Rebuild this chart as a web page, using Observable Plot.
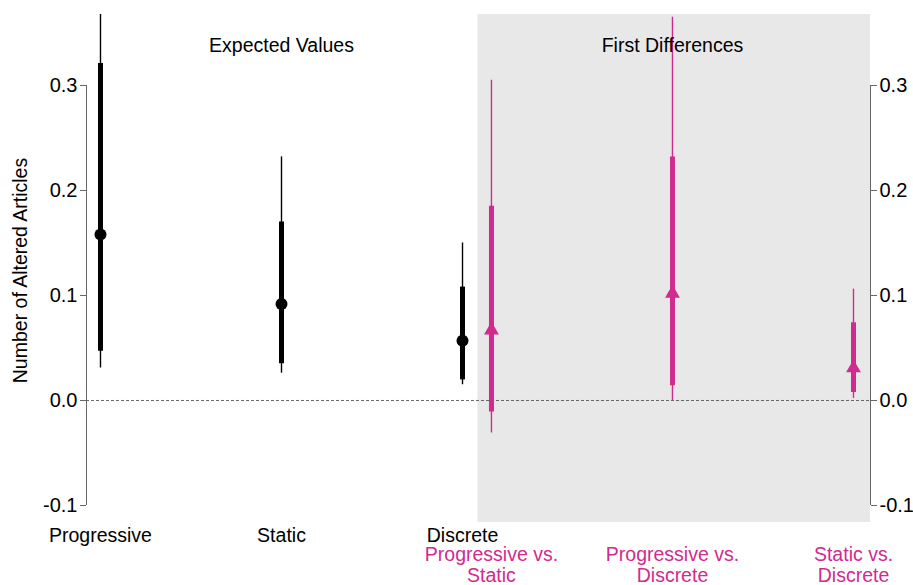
<!DOCTYPE html>
<html>
<head>
<meta charset="utf-8">
<script src="https://cdn.jsdelivr.net/npm/d3@7"></script>
<script src="https://cdn.jsdelivr.net/npm/@observablehq/plot@0.6"></script>
<style>
  html, body { margin: 0; padding: 0; background: #fff; }
</style>
</head>
<body>
<div id="chart"></div>
<script>
// Expected values
const evCategories = ["Progressive", "Static", "Discrete"];
const evEstimate = [0.158, 0.092, 0.057];
const evLo50 = [0.047, 0.035, 0.0196];
const evHi50 = [0.321, 0.170, 0.108];
const evLo95 = [0.031, 0.026, 0.015];
const evHi95 = [0.40, 0.232, 0.150];

// First differences
const fdCategories = ["Progressive vs.\nStatic", "Progressive vs.\nDiscrete", "Static vs.\nDiscrete"];
const fdEstimate = [0.067, 0.102, 0.031];
const fdLo50 = [-0.011, 0.014, 0.0076];
const fdHi50 = [0.185, 0.232, 0.074];
const fdLo95 = [-0.031, 0.0, 0.002];
const fdHi95 = [0.305, 0.365, 0.106];

const panelTitles = ["Expected Values", "First Differences"];
const yTicks = [-0.1, 0.0, 0.1, 0.2, 0.3];

const pink = "#d02b8f";
const font = "Liberation Sans, Arial, sans-serif";

const ev = evCategories.map((c, i) => ({
  label: c, pos: i + 1, est: evEstimate[i],
  lo50: evLo50[i], hi50: evHi50[i], lo95: evLo95[i], hi95: evHi95[i]
}));
const fd = fdCategories.map((c, i) => ({
  label: c, pos: i + 3.16, est: fdEstimate[i],
  lo50: fdLo50[i], hi50: fdHi50[i], lo95: fdLo95[i], hi95: fdHi95[i]
}));

const xDomain = [0.9227, 5.254];
const yDomain = [-0.1162, 0.3676];
const greyStart = 3.085;

const chart = Plot.plot({
  width: 913,
  height: 585,
  marginLeft: 86,
  marginRight: 43,
  marginTop: 14,
  marginBottom: 63,
  style: { fontFamily: font, fontSize: "20px", background: "#fff", color: "#000" },
  x: { domain: xDomain, axis: null },
  y: { domain: yDomain, axis: null },
  marks: [
    Plot.rect([0], { x1: greyStart, x2: xDomain[1], y1: yDomain[0], y2: yDomain[1], fill: "#e8e8e8" }),
    Plot.ruleY([0], { stroke: "#444", strokeWidth: 0.8, strokeDasharray: "3,2" }),
    // axis lines
    Plot.ruleX([xDomain[0], xDomain[1]], { y1: yTicks[0], y2: yTicks[yTicks.length - 1], stroke: "#666", strokeWidth: 1 }),
    Plot.axisY({ anchor: "left", ticks: yTicks, tickFormat: d => d.toFixed(1), tickSize: 6, tickPadding: 3, fontSize: 20, stroke: "#666", label: null }),
    Plot.axisY({ anchor: "right", ticks: yTicks, tickFormat: d => d.toFixed(1), tickSize: 6, tickPadding: 3, fontSize: 20, stroke: "#666", label: null }),
    // expected values
    Plot.ruleX(ev, { x: "pos", y1: "lo95", y2: "hi95", stroke: "#000", strokeWidth: 1.4, clip: true }),
    Plot.ruleX(ev, { x: "pos", y1: "lo50", y2: "hi50", stroke: "#000", strokeWidth: 5, clip: true }),
    Plot.dot(ev, { x: "pos", y: "est", r: 6, fill: "#000", stroke: null }),
    // first differences
    Plot.ruleX(fd, { x: "pos", y1: "lo95", y2: "hi95", stroke: pink, strokeWidth: 1.4, clip: true }),
    Plot.ruleX(fd, { x: "pos", y1: "lo50", y2: "hi50", stroke: pink, strokeWidth: 5, clip: true }),
    Plot.dot(fd, { x: "pos", y: "est", symbol: "triangle", r: 5.5, fill: pink, stroke: null }),
    // panel titles
    Plot.text([panelTitles[0]], { x: ev[1].pos, text: d => d, frameAnchor: "top", dy: 24, fontSize: 19.5, fill: "#000" }),
    Plot.text([panelTitles[1]], { x: fd[1].pos, text: d => d, frameAnchor: "top", dy: 24, fontSize: 19.5, fill: "#000" }),
    // x labels
    Plot.text(ev, { x: "pos", text: "label", frameAnchor: "bottom", lineAnchor: "top", dy: 6, fontSize: 19.5, fill: "#000" }),
    Plot.text(fd, { x: "pos", text: "label", frameAnchor: "bottom", lineAnchor: "top", dy: 23, lineHeight: 1.1, fontSize: 19.5, fill: pink }),
    // y label
    Plot.text(["Number of Altered Articles"], { text: d => d, frameAnchor: "left", textAnchor: "middle", dx: -66, dy: 2, rotate: -90, fontSize: 19.5, fill: "#000" })
  ]
});

document.getElementById("chart").appendChild(chart);
</script>
</body>
</html>
